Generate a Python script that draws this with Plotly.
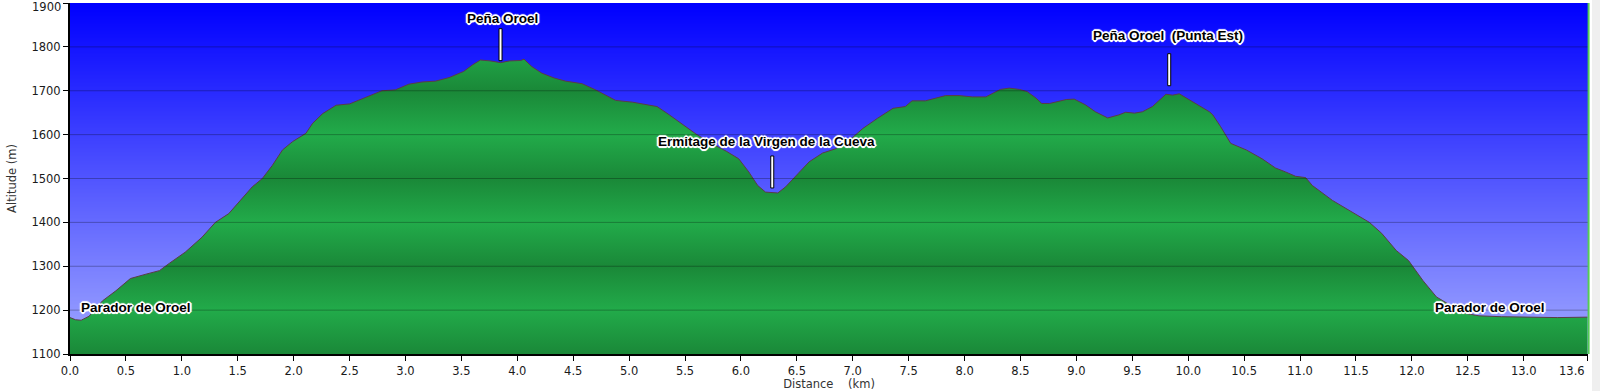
import base64
import struct
import zlib

import plotly.graph_objects as go

# ---------------- data ----------------
distance_km = [
    0.00, 0.05, 0.10, 0.17, 0.23, 0.29, 0.41, 0.54, 0.68, 0.80, 0.89, 1.03, 1.18, 1.30,
    1.42, 1.51, 1.63, 1.72, 1.81, 1.90, 1.99, 2.11, 2.17, 2.26, 2.38, 2.50, 2.64, 2.79,
    2.91, 3.03, 3.15, 3.27, 3.39, 3.52, 3.60, 3.67, 3.76, 3.85, 3.93, 4.03, 4.06, 4.13,
    4.22, 4.33, 4.43, 4.58, 4.70, 4.79, 4.88, 5.03, 5.18, 5.25, 5.36, 5.48, 5.60, 5.72,
    5.87, 5.98, 6.07, 6.15, 6.22, 6.33, 6.40, 6.51, 6.61, 6.73, 6.85, 6.97, 7.09, 7.22,
    7.36, 7.47, 7.53, 7.65, 7.77, 7.83, 7.95, 8.07, 8.19, 8.25, 8.32, 8.40, 8.49, 8.56,
    8.64, 8.69, 8.76, 8.91, 8.98, 9.08, 9.17, 9.28, 9.38, 9.44, 9.52, 9.59, 9.68, 9.80,
    9.86, 9.92, 10.04, 10.19, 10.22, 10.29, 10.38, 10.52, 10.66, 10.78, 10.87, 10.96,
    11.05, 11.11, 11.29, 11.47, 11.62, 11.73, 11.86, 11.97, 12.10, 12.22, 12.31, 12.43,
    12.49, 12.60, 12.80, 13.00, 13.30, 13.57,
]
altitude_m = [
    1183, 1178, 1177, 1186, 1203, 1221, 1244, 1272, 1282, 1290, 1307, 1332, 1366, 1400,
    1420, 1446, 1481, 1500, 1530, 1565, 1584, 1603, 1626, 1648, 1667, 1670, 1685, 1700,
    1702, 1715, 1720, 1722, 1730, 1744, 1759, 1770, 1768, 1764, 1768, 1769, 1772, 1755,
    1740, 1729, 1722, 1716, 1702, 1690, 1678, 1674, 1668, 1664, 1645, 1622, 1601, 1582,
    1562, 1545, 1515, 1484, 1469, 1467, 1481, 1511, 1538, 1558, 1568, 1587, 1614, 1637,
    1660, 1664, 1677, 1677, 1685, 1689, 1689, 1686, 1686, 1694, 1703, 1706, 1703, 1698,
    1683, 1671, 1671, 1680, 1681, 1668, 1652, 1638, 1645, 1651, 1649, 1652, 1664, 1692,
    1690, 1693, 1675, 1652, 1645, 1618, 1580, 1565, 1545, 1524, 1515, 1505,
    1502, 1484, 1450, 1423, 1400, 1375, 1336, 1313, 1267, 1230, 1217, 1198,
    1192, 1187, 1185, 1184, 1183, 1184,
]

# waypoints with a pointer
poi_text = ["Peña Oroel", "Ermitage de la Virgen de la Cueva", "Peña Oroel\u00a0\u00a0(Punta Est)"]
poi_dist = [3.85, 6.28, 9.83]
poi_alt = [1764, 1467, 1691]

# start / end labels
end_text = ["Parador de Oroel", "Parador de Oroel"]
end_dist = [0.08, 13.21]
end_alt = [1207, 1207]

x_tick_vals = [0.0, 0.5, 1.0, 1.5, 2.0, 2.5, 3.0, 3.5, 4.0, 4.5, 5.0, 5.5, 6.0, 6.5, 7.0,
               7.5, 8.0, 8.5, 9.0, 9.5, 10.0, 10.5, 11.0, 11.5, 12.0, 12.5, 13.0, 13.57]
x_tick_text = ["0.0", "0.5", "1.0", "1.5", "2.0", "2.5", "3.0", "3.5", "4.0", "4.5", "5.0",
               "5.5", "6.0", "6.5", "7.0", "7.5", "8.0", "8.5", "9.0", "9.5", "10.0", "10.5",
               "11.0", "11.5", "12.0", "12.5", "13.0", "13.6"]
y_tick_vals = [1100, 1200, 1300, 1400, 1500, 1600, 1700, 1800, 1900]
y_tick_text = ["1100", "1200", "1300", "1400", "1500", "1600", "1700", "1800", "1900"]

X_MAX = 13.575
Y_MIN, Y_MAX = 1100, 1900


# ---------------- background gradient image ----------------
def gradient_png(top, bottom, n=256):
    rows = b""
    for i in range(n):
        t = i / (n - 1)
        c = [round(top[k] + (bottom[k] - top[k]) * t) for k in range(3)]
        rows += b"\x00" + bytes(c)

    def chunk(tag, data):
        return (struct.pack(">I", len(data)) + tag + data
                + struct.pack(">I", zlib.crc32(tag + data) & 0xFFFFFFFF))

    png = b"\x89PNG\r\n\x1a\n"
    png += chunk(b"IHDR", struct.pack(">IIBBBBB", 1, n, 8, 2, 0, 0, 0))
    png += chunk(b"IDAT", zlib.compress(rows, 9))
    png += chunk(b"IEND", b"")
    return "data:image/png;base64," + base64.b64encode(png).decode()


bg_src = gradient_png((0, 0, 255), (162, 170, 255))

# ---------------- figure ----------------
LIGHT = "#22ab4a"
DARK = "#1a8838"
fig = go.Figure()
fig.add_trace(go.Scatter(
    x=distance_km, y=altitude_m, mode="lines",
    line=dict(color="#5a3c46", width=1),
    fill="tozeroy",
    fillgradient=dict(
        type="vertical", start=1100, stop=1900,
        colorscale=[[0.0, DARK], [0.125, LIGHT], [0.25, DARK], [0.375, LIGHT],
                    [0.5, DARK], [0.625, LIGHT], [0.75, DARK], [0.875, LIGHT], [1.0, DARK]],
    ),
    hoverinfo="x+y", showlegend=False,
))

shapes = []
# grid lines drawn above the filled profile
for v in y_tick_vals[1:-1]:
    shapes.append(dict(type="line", xref="paper", yref="y", x0=0, x1=1, y0=v, y1=v,
                       line=dict(color="rgba(0,0,0,0.28)", width=1), layer="above"))
# pointers
gaps = [2, 5, 9]
for d, a, g in zip(poi_dist, poi_alt, gaps):
    shapes.append(dict(type="rect", xref="x", yref="y", xsizemode="pixel", ysizemode="pixel",
                       xanchor=d, yanchor=a, x0=-1.5, x1=1.5, y0=g, y1=g + 32,
                       fillcolor="white", line=dict(color="black", width=1), layer="above"))
# right edge decoration
shapes.append(dict(type="line", xref="paper", yref="paper", x0=1.0004, x1=1.0004, y0=0, y1=1,
                   line=dict(color="#55cc55", width=2), layer="above"))
shapes.append(dict(type="rect", xref="paper", yref="paper", x0=1 + 4 / 1518, x1=1 + 14 / 1518,
                   y0=-40 / 351, y1=1 + 4 / 351, fillcolor="#efefef", line=dict(width=0),
                   layer="below"))

halo = ("-1px -1px 0 #fff, 1px -1px 0 #fff, -1px 1px 0 #fff, 1px 1px 0 #fff, "
        "0 1.5px 0 #fff, 0 -1.5px 0 #fff, 1.5px 0 0 #fff, -1.5px 0 0 #fff, "
        "2px 0 1px #fff, -2px 0 1px #fff, 0 2px 1px #fff, 0 -2px 1px #fff")
label_font = dict(family="Arial, 'Liberation Sans', sans-serif", size=13.5, color="black",
                  weight="bold", shadow=halo)

tick_font = dict(family="'DejaVu Sans', Verdana, sans-serif", size=11.5, color="#1a1a1a")
title_font = dict(family="'DejaVu Sans', Verdana, sans-serif", size=11.5, color="#333333")

annotations = []
yshifts = [44, 51, 59]
xshifts = [2, -6, -1]
for t, d, a, ys, xs in zip(poi_text, poi_dist, poi_alt, yshifts, xshifts):
    annotations.append(dict(x=d, y=a, xref="x", yref="y", text=t, showarrow=False,
                            xanchor="center", yanchor="middle", yshift=ys, xshift=xs,
                            font=label_font))
annotations.append(dict(x=end_dist[0], y=end_alt[0], xref="x", yref="y", text=end_text[0],
                        showarrow=False, xanchor="left", yanchor="middle", font=label_font))
annotations.append(dict(x=end_dist[1], y=end_alt[1], xref="x", yref="y", text=end_text[1],
                        showarrow=False, xanchor="right", yanchor="middle", font=label_font))

# edge tick labels placed as annotations so they stay inside the page
annotations.append(dict(x=x_tick_vals[-1], y=0, xref="x", yref="paper", text=x_tick_text[-1],
                        showarrow=False, xanchor="right", yanchor="top", yshift=-9, xshift=-1,
                        font=tick_font, borderpad=0))
annotations.append(dict(x=0, y=y_tick_vals[-1], xref="paper", yref="y", text=y_tick_text[-1],
                        showarrow=False, xanchor="right", yanchor="top", xshift=-8, yshift=4,
                        font=tick_font, borderpad=0))

axis_x_text = x_tick_text[:-1] + [""]
axis_y_text = y_tick_text[:-1] + [""]

fig.update_layout(
    width=1600, height=391,
    margin=dict(l=70, r=12, t=3, b=37, autoexpand=False),
    paper_bgcolor="white", plot_bgcolor="#5058ff",
    shapes=shapes, annotations=annotations,
    images=[dict(source=bg_src, xref="paper", yref="paper", x=0, y=1, sizex=1, sizey=1,
                 xanchor="left", yanchor="top", sizing="stretch", layer="below")],
    xaxis=dict(range=[0, X_MAX], tickvals=x_tick_vals, ticktext=axis_x_text,
               automargin=False, ticklabeloverflow="allow",
               showgrid=False, zeroline=False, showline=True, linecolor="black", linewidth=2,
               ticks="outside", ticklen=5, tickcolor="black", tickwidth=1,
               tickfont=tick_font,
               title=dict(text="Distance\u00a0\u00a0\u00a0\u00a0(km)", font=title_font, standoff=4)),
    yaxis=dict(range=[Y_MIN, Y_MAX], tickvals=y_tick_vals, ticktext=axis_y_text,
               automargin=False, ticklabeloverflow="allow",
               showgrid=False, zeroline=False, showline=True, linecolor="black", linewidth=2,
               ticks="outside", ticklen=5, tickcolor="black", tickwidth=1,
               tickfont=tick_font,
               title=dict(text="Altitude (m)", font=title_font, standoff=12)),
)

fig.write_html(
    "out.html",
    config={"displayModeBar": False},
    post_script="document.body.style.margin='0';document.body.style.overflow='hidden';",
)
